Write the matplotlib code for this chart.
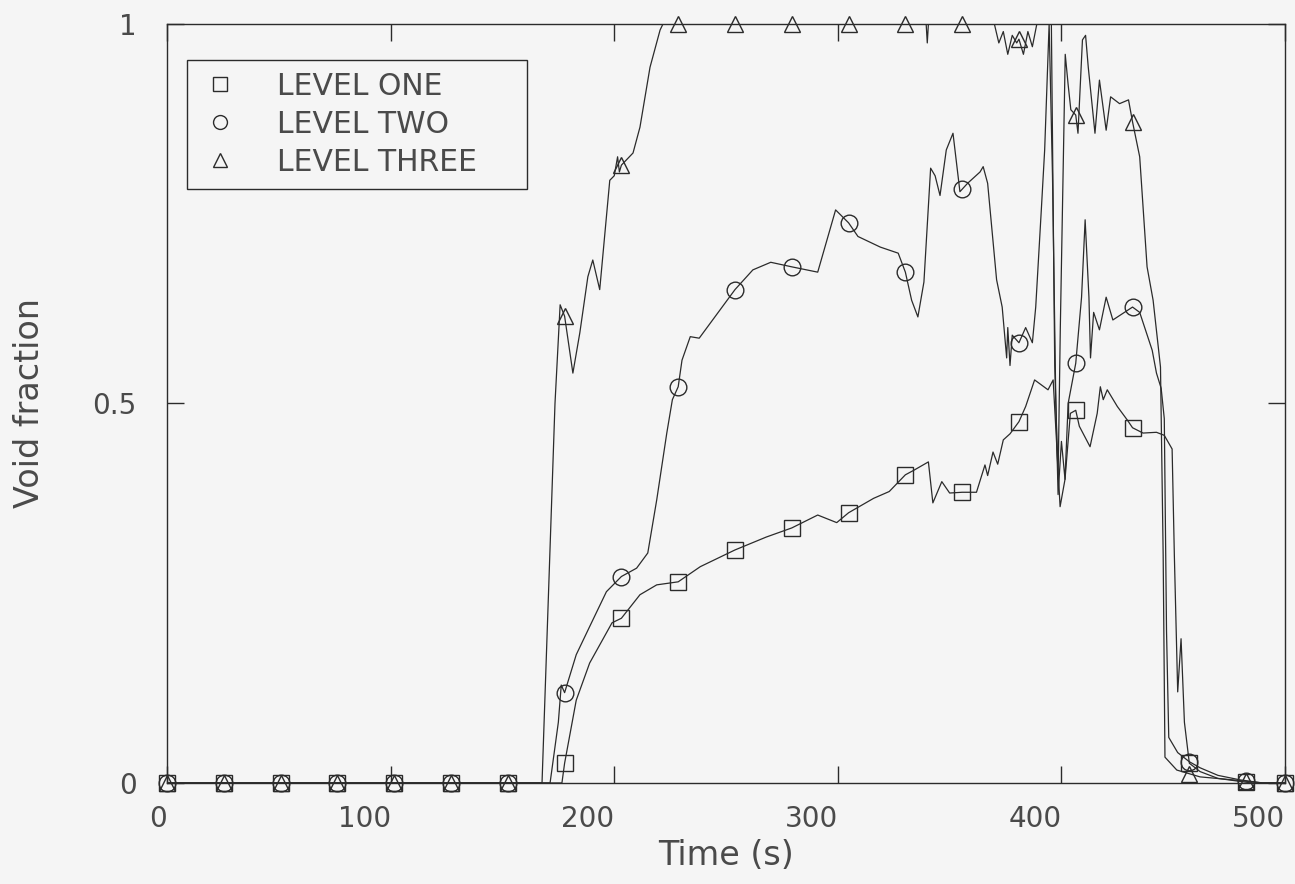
import numpy as np
import matplotlib
matplotlib.use("Agg")
import matplotlib.pyplot as plt

# void fraction traces at the three levels (time in s)
t_one = [0, 176.6, 177.8, 183, 189, 199, 203.2, 211.5, 219, 228.6,
         238.5, 254, 268, 279.4, 291, 299.5, 304.8, 316, 323, 330.2,
         334, 340.5, 342.5, 346.5, 350, 355.6, 362, 365.8, 367, 369.4,
         371.5, 374, 377, 381, 384, 388, 394, 396.3, 399.4, 401.6,
         404, 406.4, 408, 412.8, 416, 417.4, 418.7, 420.5, 425, 429.5,
         431.8, 436.5, 442.5, 446, 449.5, 450.5, 452, 453.5, 455, 457.2,
         462, 470, 480, 485, 500]
v_one = [0, 0, 0.026, 0.109, 0.158, 0.211, 0.217, 0.248, 0.261, 0.265,
         0.285, 0.307, 0.324, 0.336, 0.353, 0.343, 0.356, 0.375, 0.384, 0.406,
         0.412, 0.423, 0.369, 0.397, 0.382, 0.383, 0.383, 0.419, 0.405, 0.436,
         0.42, 0.452, 0.46, 0.476, 0.496, 0.531, 0.518, 0.531, 0.364, 0.40,
         0.487, 0.491, 0.47, 0.443, 0.487, 0.522, 0.505, 0.518, 0.496, 0.478,
         0.468, 0.461, 0.462, 0.458, 0.44, 0.3, 0.12, 0.19, 0.08, 0.026,
         0.015, 0.006, 0.002, 0, 0]

t_two = [0, 171.3, 175, 176.3, 177.8, 183, 189, 196.5, 203.2, 210,
         215, 219, 223.5, 226, 228.6, 230.3, 234, 238, 244, 254,
         262, 270, 279.4, 291, 299, 304.8, 309, 319, 327, 330.2,
         333, 335.8, 338.5, 340.5, 341.5, 343.5, 345.7, 348.5, 351.5, 354.6,
         358, 363.6, 365, 367, 371, 373.5, 375.5, 376, 377, 378,
         381, 384, 387, 388.5, 391, 392.5, 394.5, 396, 397.5, 398.5,
         400, 401.6, 403, 406.4, 409, 410.6, 412.3, 413, 414.4, 417,
         420, 423, 431.8, 435, 440.6, 442.5, 444.6, 446, 447, 448,
         452, 457.2, 462, 470, 480, 490, 500]
v_two = [0, 0, 0.08, 0.129, 0.119, 0.169, 0.206, 0.252, 0.272, 0.283,
         0.303, 0.373, 0.461, 0.505, 0.522, 0.557, 0.588, 0.586, 0.61, 0.65,
         0.676, 0.686, 0.68, 0.673, 0.755, 0.738, 0.72, 0.706, 0.698, 0.673,
         0.636, 0.614, 0.66, 0.76, 0.81, 0.80, 0.774, 0.834, 0.856, 0.779,
         0.79, 0.805, 0.812, 0.79, 0.663, 0.627, 0.56, 0.6, 0.55, 0.59,
         0.58, 0.60, 0.58, 0.627, 0.755, 0.834, 1.0, 0.8, 0.5, 0.38,
         0.45, 0.40, 0.5, 0.553, 0.64, 0.742, 0.64, 0.56, 0.62, 0.597,
         0.64, 0.61, 0.627, 0.62, 0.57, 0.54, 0.52, 0.48, 0.2, 0.06,
         0.04, 0.028, 0.02, 0.01, 0.004, 0, 0]

t_three = [0, 167.7, 173.5, 175.8, 177.8, 181.5, 184.6, 188.2, 190.4, 193.5,
           198, 200, 201.5, 202.3, 203.2, 208.4, 211.5, 216, 220.5, 221.8,
           339.5, 340, 340.5, 370, 372, 374, 376, 378, 380, 381,
           383, 385, 387, 389, 393, 395.5, 397, 398.5, 399.5, 401.7,
           403, 404.2, 406.4, 407.4, 409.4, 410.8, 412, 415, 417, 420,
           422, 426, 430, 431.8, 435, 438.3, 441, 444.3, 445.5, 446.3,
           451.6, 462, 477, 490, 500]
v_three = [0, 0, 0.5, 0.63, 0.615, 0.54, 0.593, 0.667, 0.689, 0.65,
           0.794, 0.80, 0.825, 0.805, 0.814, 0.83, 0.864, 0.943, 0.992, 1.0,
           1.0, 0.975, 1.0, 1.0, 0.975, 0.99, 0.96, 0.985, 0.975, 0.98,
           0.96, 0.99, 0.97, 1.0, 1.0, 1.0, 0.55, 0.40, 0.6, 0.96,
           0.92, 0.887, 0.88, 0.856, 0.979, 0.985, 0.943, 0.856, 0.926, 0.86,
           0.904, 0.895, 0.9, 0.871, 0.825, 0.68, 0.636, 0.548, 0.3, 0.034,
           0.017, 0.008, 0.004, 0, 0]

# symbol stations along the time axis
mark_t = [0, 25.4, 50.8, 76.2, 101.6, 127.0, 152.4, 177.8, 203.2, 228.6,
          254.0, 279.4, 304.8, 330.2, 355.6, 381.0, 406.4, 431.8, 457.2,
          482.6, 500]

labels = ['LEVEL ONE', 'LEVEL TWO', 'LEVEL THREE']
markers = ['s', 'o', '^']

bg = '#f5f5f5'
ink = '#2b2b2b'
txt = '#4a4a4a'

fig = plt.figure(figsize=(12.95, 8.84), dpi=100, facecolor=bg)
ax = fig.add_axes([0.129, 0.1143, 0.8633, 0.8586], facecolor=bg)

series = [(t_one, v_one), (t_two, v_two), (t_three, v_three)]
for (t, v), lab, mk in zip(series, labels, markers):
    ax.plot(t, v, color=ink, lw=0.9)
    ax.plot(mark_t, np.interp(mark_t, t, v), ls='none', marker=mk,
            ms=12, mfc='none', mec=ink, mew=1.0, clip_on=False, label=lab)

ax.set_xlim(0, 500)
ax.set_ylim(0, 1)
ax.set_xticks([0, 100, 200, 300, 400, 500])
ax.set_xticklabels(['0', '100', '200', '300', '400', '500'], ha='right')
ax.set_yticks([0, 0.5, 1])
ax.set_yticklabels(['0', '0.5', '1'])
ax.tick_params(direction='in', length=12, width=1, color=ink,
               top=True, right=True, labelsize=20, labelcolor=txt)
ax.tick_params(axis='x', pad=16)
ax.tick_params(axis='y', pad=22)
for s in ax.spines.values():
    s.set_color(ink)
    s.set_linewidth(1.0)

ax.set_xlabel('Time (s)', fontsize=24, color=txt, labelpad=4)
ax.set_ylabel('Void fraction', fontsize=24, color=txt, labelpad=33)

# legend frame spans a fixed box in the upper left
leg = ax.legend(loc='upper left', bbox_to_anchor=(0.0179, 0.5, 0.304, 0.4526),
                mode='expand', fontsize=21.5, frameon=True, fancybox=False,
                framealpha=1, facecolor=bg, edgecolor=ink, handlelength=1.4,
                handletextpad=1.2, borderpad=0.4, labelspacing=0.3,
                borderaxespad=0)
for line in leg.get_lines():
    line.set_markersize(10)
for tx in leg.get_texts():
    tx.set_color(txt)
leg.get_frame().set_linewidth(1.0)

fig.savefig('out.png', dpi=100, facecolor=bg)
